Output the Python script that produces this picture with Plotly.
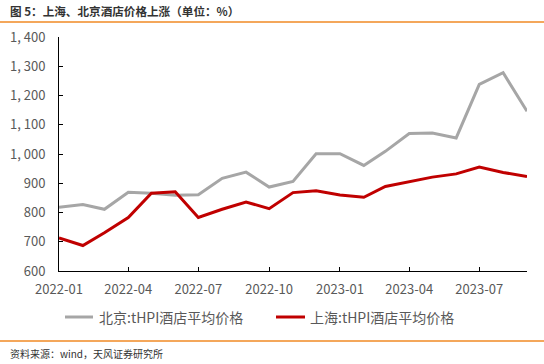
import plotly.graph_objects as go

months = ["2022-01-01", "2022-02-01", "2022-03-01", "2022-04-01", "2022-05-01", "2022-06-01",
          "2022-07-01", "2022-08-01", "2022-09-01", "2022-10-01", "2022-11-01", "2022-12-01",
          "2023-01-01", "2023-02-01", "2023-03-01", "2023-04-01", "2023-05-01", "2023-06-01",
          "2023-07-01", "2023-08-01", "2023-09-01"]
beijing = [818, 827, 811, 869, 866, 859, 861, 917, 938, 887, 906, 1001,
           1001, 961, 1009, 1070, 1072, 1055, 1238, 1278, 1146]
shanghai = [713, 687, 731, 783, 866, 871, 783, 811, 836, 813, 868, 874,
            860, 852, 889, 906, 921, 932, 955, 937, 923]
name_bj = "北京:tHPI酒店平均价格"
name_sh = "上海:tHPI酒店平均价格"
y_ticks = [600, 700, 800, 900, 1000, 1100, 1200, 1300, 1400]
y_ticktext = ["600", "700", "800", "900", "1, 000", "1, 100", "1, 200", "1, 300", "1, 400"]
title = "图 5：上海、北京酒店价格上涨（单位：%）"
source = "资料来源：wind，天风证券研究所"

FONT = "Noto Sans CJK SC"
GRAY_TXT = "#595959"
C_BJ = "#A6A6A6"
C_SH = "#C00000"

fig = go.Figure()
fig.add_trace(go.Scatter(x=months, y=beijing, name=name_bj, mode="lines",
                         line=dict(color=C_BJ, width=3)))
fig.add_trace(go.Scatter(x=months, y=shanghai, name=name_sh, mode="lines",
                         line=dict(color=C_SH, width=3)))

L, R, T, B = 59, 17, 37, 93
W, H = 544, 364
pw, ph = W - L - R, H - T - B

def px2x(x):
    return (x - L) / pw

def px2y(y):
    return (H - B - y) / ph

fig.update_layout(
    width=W, height=H,
    margin=dict(l=L, r=R, t=T, b=B, autoexpand=False),
    paper_bgcolor="white", plot_bgcolor="white",
    font=dict(family=FONT, size=13, color=GRAY_TXT),
    showlegend=False,
    xaxis=dict(type="date", range=["2022-01-01", "2023-09-01"],
               dtick="M3", tick0="2022-01-01", tickformat="%Y-%m",
               showgrid=False, zeroline=False, automargin=False,
               showline=True, linecolor="black", linewidth=1,
               ticks="inside", ticklen=4, tickcolor="black",
               ticklabelstandoff=6,
               tickfont=dict(family=FONT, size=13, color=GRAY_TXT)),
    yaxis=dict(range=[600, 1400], tickvals=y_ticks, ticktext=y_ticktext,
               showgrid=False, zeroline=False, automargin=False,
               showline=True, linecolor="black", linewidth=1,
               ticks="inside", ticklen=4, tickcolor="black",
               ticklabelstandoff=10,
               tickfont=dict(family=FONT, size=13, color=GRAY_TXT)),
)

# orange separator lines
for yy in (22, 341):
    fig.add_shape(type="line", xref="paper", yref="paper", x0=px2x(0), x1=px2x(W),
                  y0=px2y(yy), y1=px2y(yy), line=dict(color="#F08A24", width=1.5))

# legend (manual)
for (x0, x1, tx, col, nm) in [(65, 93, 97, C_BJ, name_bj), (276, 305, 308, C_SH, name_sh)]:
    fig.add_shape(type="line", xref="paper", yref="paper", x0=px2x(x0), x1=px2x(x1),
                  y0=px2y(317), y1=px2y(317), line=dict(color=col, width=3))
    fig.add_annotation(text=nm, xref="paper", yref="paper", x=px2x(tx), y=px2y(317),
                       xanchor="left", yanchor="middle", showarrow=False,
                       font=dict(family=FONT, size=14, color=GRAY_TXT))

fig.add_annotation(text="<b>" + title + "</b>", xref="paper", yref="paper",
                   x=px2x(8), y=px2y(11), xanchor="left", yanchor="middle",
                   showarrow=False, font=dict(family=FONT, size=11.6, color="#333333"))
fig.add_annotation(text=source, xref="paper", yref="paper",
                   x=px2x(8), y=px2y(353), xanchor="left", yanchor="middle",
                   showarrow=False, font=dict(family=FONT, size=10, color="#333333"))

fig.write_html("out.html", config={"displayModeBar": False},
               post_script="document.body.style.margin='0px';")
